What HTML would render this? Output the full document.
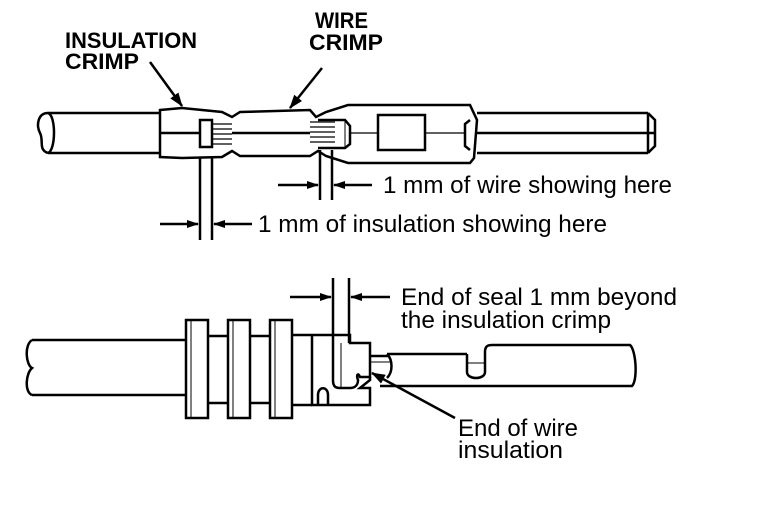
<!DOCTYPE html>
<html><head><style>
html,body{margin:0;padding:0;background:#fff;}
svg{display:block;}
text{font-family:"Liberation Sans",Arial,sans-serif;fill:#000;}
.b{font-weight:bold;font-size:22px;}
.n{font-size:24px;}
</style></head><body>
<svg width="768" height="530" viewBox="0 0 768 530" xmlns="http://www.w3.org/2000/svg">
<defs><marker id="ah" markerWidth="12" markerHeight="8" refX="11" refY="4" orient="auto" markerUnits="userSpaceOnUse"><path d="M0,0 L12,4 L0,8z" fill="#000"/></marker>
<marker id="ah2" markerWidth="14" markerHeight="10" refX="13" refY="5" orient="auto" markerUnits="userSpaceOnUse"><path d="M0,0 L14,5 L0,10z" fill="#000"/></marker></defs>
<g fill="none" stroke="#000" stroke-width="2.5">
<path d="M48,113 C38,113 36,125 40,133 C44,140 38,150 48,153"/>
<path d="M48,113 C56,115 56,150 48,153"/>
<line x1="48" y1="113" x2="160" y2="113"/><line x1="48" y1="153" x2="160" y2="153"/>
<path d="M160,110 L182,108 L222,112 L232,117 L240,112 L310,110 L316,117 L326,112 L348,105 L470,105 L477,120 L474,158 L470,163 L348,163 L326,156 L318,151 L310,156 L240,156 L232,151 L222,157 L182,158 L160,157 Z"/>
<line x1="160" y1="133" x2="200" y2="133"/>
<rect x="200" y="120" width="12" height="27"/>
<path d="M212,124 L232,124 M212,129 L232,129 M212,134 L232,134 M212,139 L232,139 M212,144 L232,144" stroke-width="1.3"/>
<line x1="232" y1="133" x2="310" y2="133"/>
<path d="M310,122 L335,122 M310,127 L335,127 M310,132 L335,132 M310,137 L335,137 M310,142 L335,142" stroke-width="1.3"/>
<path d="M318,120 L345,120 L350,126 L350,144 L345,148 L318,148"/>
<path d="M345,120 L345,148" stroke-width="1"/>
<line x1="350" y1="133" x2="378" y2="133" stroke-width="1.3"/>
<rect x="378" y="115" width="47" height="35"/>
<line x1="425" y1="133" x2="465" y2="133" stroke-width="1.3"/>
<path d="M470,120 L465,124 L465,146 L470,150"/>
<line x1="477" y1="113" x2="648" y2="113"/><line x1="477" y1="153" x2="648" y2="153"/>
<line x1="477" y1="133" x2="655" y2="133"/>
<path d="M648,113 L655,120 L655,146 L648,153 M648,113 L648,153"/>
<line x1="150" y1="62" x2="182" y2="106" marker-end="url(#ah2)"/>
<line x1="322" y1="68" x2="290" y2="108" marker-end="url(#ah2)"/>
<line x1="200" y1="157" x2="200" y2="240"/><line x1="212" y1="157" x2="212" y2="240"/>
<line x1="160" y1="224" x2="198" y2="224" marker-end="url(#ah)"/>
<line x1="252" y1="224" x2="214" y2="224" marker-end="url(#ah)"/>
<line x1="320" y1="150" x2="320" y2="200"/><line x1="332" y1="150" x2="332" y2="200"/>
<line x1="278" y1="185" x2="318" y2="185" marker-end="url(#ah)"/>
<line x1="372" y1="185" x2="334" y2="185" marker-end="url(#ah)"/>
<path d="M32,340 C24,345 26,365 32,368 C26,373 24,392 32,395"/>
<line x1="32" y1="340" x2="186" y2="340"/><line x1="32" y1="395" x2="186" y2="395"/>
<rect x="186" y="320" width="22" height="98"/><line x1="191" y1="320" x2="191" y2="418" stroke-width="1"/>
<rect x="228" y="320" width="22" height="98"/><line x1="233" y1="320" x2="233" y2="418" stroke-width="1"/>
<rect x="270" y="320" width="22" height="98"/><line x1="275" y1="320" x2="275" y2="418" stroke-width="1"/>
<line x1="208" y1="336" x2="228" y2="336"/><line x1="250" y1="336" x2="270" y2="336"/>
<line x1="208" y1="403" x2="228" y2="403"/><line x1="250" y1="403" x2="270" y2="403"/>
<path d="M292,335 L350,335 L350,343 L370,343 L370,377 L360,377 C358,372 356,375 358,380 C358,385 355,388 350,388 L340,388 C335,388 333,386 333,380"/>
<path d="M370,377 L370,380 L360,388 L370,388 L370,405 L312,405 L312,335"/>
<path d="M292,405 L312,405"/>
<path d="M318,405 L318,395 C318,386 328,386 328,395 L328,405"/>
<line x1="333" y1="278" x2="333" y2="380"/><line x1="349" y1="278" x2="349" y2="343"/>
<line x1="341" y1="343" x2="341" y2="388" stroke-width="1"/>
<line x1="290" y1="297" x2="331" y2="297" marker-end="url(#ah)"/>
<line x1="390" y1="297" x2="351" y2="297" marker-end="url(#ah)"/>
<line x1="370" y1="356" x2="388" y2="356"/><line x1="370" y1="362" x2="390" y2="362" stroke-width="1"/>
<path d="M387,354 C393,360 393,372 387,378"/>
<path d="M387,354 L467,354 M467,354 L467,372 C467,380 485,380 485,372 L485,352 C485,346 488,345 492,345 L630,345 C636,350 638,380 632,386 L380,386"/>
<line x1="467" y1="363" x2="485" y2="363" stroke-width="1"/>
<line x1="455" y1="418" x2="372" y2="373" marker-end="url(#ah2)"/>
</g>
<text class="b" x="65" y="48" textLength="132" lengthAdjust="spacingAndGlyphs">INSULATION</text>
<text class="b" x="65" y="69" textLength="74" lengthAdjust="spacingAndGlyphs">CRIMP</text>
<text class="b" x="315" y="28" textLength="53" lengthAdjust="spacingAndGlyphs">WIRE</text>
<text class="b" x="309" y="50" textLength="74" lengthAdjust="spacingAndGlyphs">CRIMP</text>
<text class="n" x="258" y="232" textLength="349" lengthAdjust="spacingAndGlyphs">1 mm of insulation showing here</text>
<text class="n" x="383" y="193" textLength="289" lengthAdjust="spacingAndGlyphs">1 mm of wire showing here</text>
<text class="n" x="401" y="305" textLength="276" lengthAdjust="spacingAndGlyphs">End of seal 1 mm beyond</text>
<text class="n" x="401" y="328" textLength="210" lengthAdjust="spacingAndGlyphs">the insulation crimp</text>
<text class="n" x="458" y="436" textLength="120" lengthAdjust="spacingAndGlyphs">End of wire</text>
<text class="n" x="458" y="458" textLength="105" lengthAdjust="spacingAndGlyphs">insulation</text>
</svg>
</body></html>
